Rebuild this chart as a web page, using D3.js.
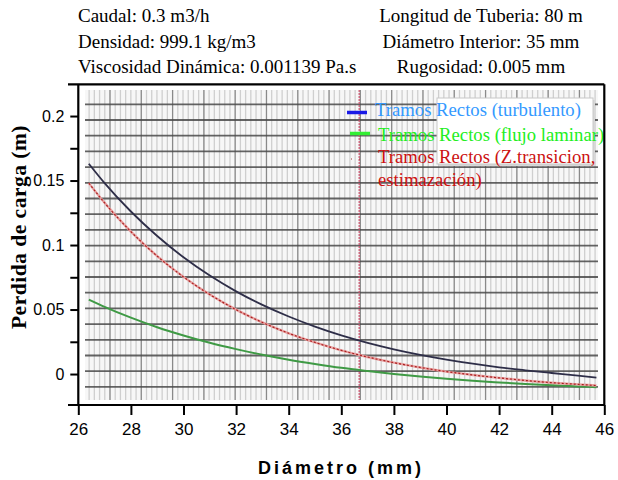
<!DOCTYPE html>
<html><head><meta charset="utf-8">
<script src="https://cdn.jsdelivr.net/npm/d3@7"></script>
<style>body{margin:0;background:#fff}svg{display:block}</style></head>
<body><svg id="c" width="618" height="480"></svg>
<script>
// ---- data ----
const diametro   = [26.4, 27, 28, 29, 30, 31, 32, 33, 34, 35, 36, 37, 38, 39, 40, 41, 42, 43, 44, 45, 45.7];
const turbulento = [0.163, 0.148, 0.126, 0.107, 0.0905, 0.0763, 0.0641, 0.0536, 0.0446, 0.0368, 0.030, 0.0242, 0.0192, 0.0149, 0.0112, 0.0080, 0.0052, 0.0029, 0.0008, -0.0012, -0.0028];
const laminar    = [0.0577, 0.0521, 0.0437, 0.0363, 0.0299, 0.0242, 0.0193, 0.0149, 0.0111, 0.0078, 0.0048, 0.0023, 0.0, -0.0020, -0.0037, -0.0052, -0.0065, -0.0077, -0.0087, -0.0096, -0.0102];
const transicion = [0.148, 0.1327, 0.1104, 0.0914, 0.0753, 0.0616, 0.0499, 0.040, 0.0316, 0.0245, 0.0184, 0.0132, 0.0088, 0.0051, 0.0019, -0.0007, -0.0030, -0.0050, -0.0067, -0.0080, -0.0089];
const diametroInterior = 36.68;
const xTickValues = [26, 28, 30, 32, 34, 36, 38, 40, 42, 44, 46];
const yMajorTicks = [0, 0.05, 0.1, 0.15, 0.2];
const yMinorTicks = [0.025, 0.075, 0.125, 0.175];
const headerLeft  = ["Caudal: 0.3 m3/h", "Densidad: 999.1 kg/m3", "Viscosidad Dinámica: 0.001139 Pa.s"];
const headerRight = ["Longitud de Tuberia: 80 m", "Diámetro Interior: 35 mm", "Rugosidad: 0.005 mm"];
const legendLabels = ["Tramos Rectos (turbulento)", "Tramos Rectos (flujo laminar)", "Tramos Rectos (Z.transicion,", "estimazación)"];

// ---- layout ----
const svg = d3.select("#c");
const x = d3.scaleLinear().domain([26, 46]).range([78.3, 604.3]);
const y = d3.scaleLinear().domain([-0.024, 0.2246]).range([405, 84.3]);
const serif = "'Liberation Serif','Times New Roman',serif";
const sans = "'Liberation Sans',Arial,sans-serif";

// grid region
const gx0 = 26.255, gx1 = 45.76, gy0 = -0.0202, gy1 = 0.2202;
const grid = svg.append("g");
grid.append("rect").attr("x", x(gx0)).attr("y", y(gy1)).attr("width", x(gx1) - x(gx0)).attr("height", y(gy0) - y(gy1)).attr("fill", "#f7f7f7");
const majStep = 1.19, majStart = 27.205;
const minorX = d3.range(majStart - majStep, gx1, majStep / 6).filter(v => v > gx0 && v < gx1);
grid.selectAll(".mx").data(minorX).join("line")
  .attr("x1", d => x(d)).attr("x2", d => x(d)).attr("y1", y(gy1)).attr("y2", y(gy0))
  .attr("stroke", "#cfcfcf").attr("stroke-width", 1.3);
const majorX = d3.range(majStart, gx1, majStep);
grid.selectAll(".Mx").data(majorX).join("line")
  .attr("x1", d => x(d)).attr("x2", d => x(d)).attr("y1", y(gy1)).attr("y2", y(gy0))
  .attr("stroke", "#8a8a8a").attr("stroke-width", 1.2);
const gridY = d3.range(0, 19).map(i => 0.2091 - i * 0.01217);
grid.selectAll(".gy").data(gridY).join("line")
  .attr("x1", x(gx0)).attr("x2", x(gx1)).attr("y1", d => y(d)).attr("y2", d => y(d))
  .attr("stroke", "#4a4a4a").attr("stroke-width", 1.8).attr("opacity", 0.85);

// vertical marker (diameter)
svg.append("line").attr("x1", x(diametroInterior)).attr("x2", x(diametroInterior))
  .attr("y1", y(gy1)).attr("y2", y(gy0))
  .attr("stroke", "#c8506a").attr("stroke-width", 1.2).attr("stroke-dasharray", "2,1");

// curves
const line = (vals) => d3.line().x((d, i) => x(diametro[i])).y(d => y(d)).curve(d3.curveMonotoneX)(vals);
svg.append("path").attr("d", line(laminar)).attr("fill", "none").attr("stroke", "#3f9a45").attr("stroke-width", 2);
svg.append("path").attr("d", line(transicion)).attr("fill", "none").attr("stroke", "#e8a0a0").attr("stroke-width", 2.4);
svg.append("path").attr("d", line(transicion)).attr("fill", "none").attr("stroke", "#a82020").attr("stroke-width", 1.2).attr("stroke-dasharray", "2,2");
svg.append("path").attr("d", line(turbulento)).attr("fill", "none").attr("stroke", "#2e2e48").attr("stroke-width", 1.8);

// legend
const lg = svg.append("g");
lg.append("rect").attr("x", 439).attr("y", 100).attr("width", 156).attr("height", 66).attr("fill", "#d8d8d8");
lg.append("rect").attr("x", 437).attr("y", 98).attr("width", 156).attr("height", 66).attr("fill", "#fff").attr("stroke", "#c8c8c8").attr("stroke-width", 1);
lg.append("line").attr("x1", 347).attr("x2", 367).attr("y1", 112.5).attr("y2", 112.5).attr("stroke", "#1a1ae6").attr("stroke-width", 3.5);
lg.append("line").attr("x1", 350).attr("x2", 370).attr("y1", 133.5).attr("y2", 133.5).attr("stroke", "#33ee33").attr("stroke-width", 3.5);
lg.append("line").attr("x1", 351).attr("x2", 366).attr("y1", 159).attr("y2", 159).attr("stroke", "#993333").attr("stroke-width", 1.2).attr("stroke-dasharray", "1,7");
const legendPos = [[375, 116, "#3399ff"], [378, 141, "#22ee22"], [378, 163, "#cc1111"], [378, 186, "#cc1111"]];
lg.selectAll("text").data(legendLabels).join("text")
  .attr("x", (d, i) => legendPos[i][0]).attr("y", (d, i) => legendPos[i][1])
  .attr("fill", (d, i) => legendPos[i][2])
  .attr("font-family", serif).attr("font-size", 18.7).text(d => d);

// axes
const yAxis = d3.axisLeft(y).tickValues([...yMajorTicks, ...yMinorTicks].sort((a, b) => a - b))
  .tickSize(8).tickPadding(6)
  .tickFormat(d => yMajorTicks.includes(d) ? d3.format("")(d) : "");
const ya = svg.append("g").attr("transform", `translate(${x(26)},0)`).call(yAxis);
ya.select(".domain").remove();
ya.selectAll("line").attr("stroke", "#000").attr("stroke-width", 2);
ya.selectAll("text").attr("font-family", sans).attr("font-size", 16).attr("fill", "#000");

const xAxis = d3.axisBottom(x).tickValues(xTickValues).tickSize(10).tickPadding(8).tickFormat(d3.format("d"));
const xa = svg.append("g").attr("transform", `translate(0,${y(-0.024)})`).call(xAxis);
xa.select(".domain").remove();
xa.selectAll("line").attr("stroke", "#000").attr("stroke-width", 2);
xa.selectAll("text").attr("font-family", sans).attr("font-size", 17).attr("fill", "#000");

// frame
const fr = svg.append("g").attr("stroke", "#000").attr("stroke-width", 2.2).attr("fill", "none");
fr.append("line").attr("x1", 68).attr("x2", x(46)).attr("y1", y(0.2246)).attr("y2", y(0.2246));
fr.append("line").attr("x1", 68).attr("x2", x(46)).attr("y1", y(-0.024)).attr("y2", y(-0.024));
fr.append("line").attr("x1", x(26)).attr("x2", x(26)).attr("y1", y(0.2246)).attr("y2", y(-0.024));
fr.append("line").attr("x1", x(46)).attr("x2", x(46)).attr("y1", y(0.2246)).attr("y2", y(-0.024));

// header
svg.selectAll(".hl").data(headerLeft).join("text")
  .attr("x", 78).attr("y", (d, i) => [22, 48, 73][i])
  .attr("font-family", serif).attr("font-size", 19).attr("fill", "#000").text(d => d);
svg.selectAll(".hr").data(headerRight).join("text")
  .attr("x", 481).attr("y", (d, i) => [22, 48, 73][i]).attr("text-anchor", "middle")
  .attr("font-family", serif).attr("font-size", 19).attr("fill", "#000").text(d => d);

// axis titles
svg.append("text").attr("x", 341).attr("y", 474).attr("text-anchor", "middle")
  .attr("font-family", sans).attr("font-weight", "bold").attr("font-size", 18).attr("letter-spacing", 3)
  .text("Diámetro (mm)");
svg.append("text").attr("transform", "translate(26,227) rotate(-90)").attr("text-anchor", "middle")
  .attr("font-family", serif).attr("font-weight", "bold").attr("font-size", 21.5).attr("letter-spacing", 0.5)
  .text("Perdida de carga (m)");
</script></body></html>
